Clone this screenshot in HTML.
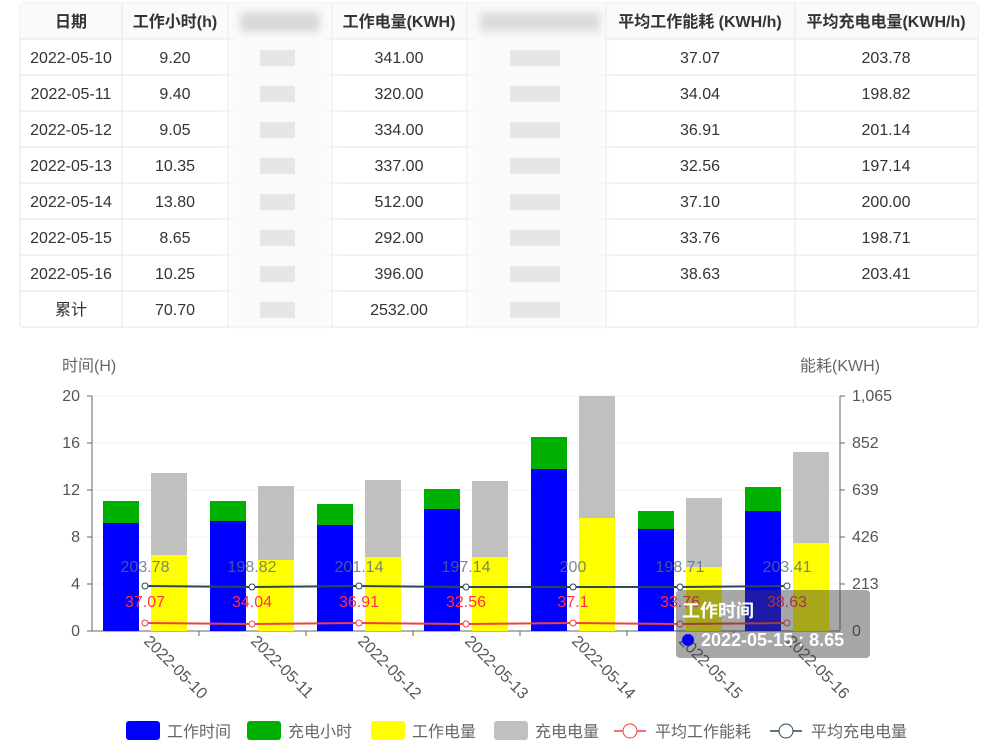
<!DOCTYPE html>
<html><head><meta charset="utf-8"><style>
body{margin:0;background:#fff;width:1000px;height:750px;overflow:hidden;font-family:"Liberation Sans","Noto Sans CJK SC",sans-serif}
</style></head><body>
<svg width="1000" height="750" xmlns="http://www.w3.org/2000/svg" font-family="Liberation Sans, Noto Sans CJK SC, sans-serif">
<defs><filter id="bl"><feGaussianBlur stdDeviation="4"/></filter></defs>
<rect x="20" y="3" width="958" height="324" fill="#fff" stroke="#e4e4e4" rx="3"/>
<rect x="20" y="3" width="958" height="36" fill="#fafafa"/>
<g stroke="#e6e6e6" stroke-width="1">
<line x1="20" y1="39" x2="978" y2="39"/><line x1="20" y1="75" x2="978" y2="75"/><line x1="20" y1="111" x2="978" y2="111"/><line x1="20" y1="147" x2="978" y2="147"/><line x1="20" y1="183" x2="978" y2="183"/><line x1="20" y1="219" x2="978" y2="219"/><line x1="20" y1="255" x2="978" y2="255"/><line x1="20" y1="291" x2="978" y2="291"/>
<line x1="122" y1="3" x2="122" y2="327"/><line x1="228" y1="3" x2="228" y2="327"/><line x1="332" y1="3" x2="332" y2="327"/><line x1="467" y1="3" x2="467" y2="327"/><line x1="606" y1="3" x2="606" y2="327"/><line x1="795" y1="3" x2="795" y2="327"/>
</g>
<g filter="url(#bl)">
<rect x="230" y="3" width="100" height="324" fill="#fafafa"/>
<rect x="240" y="12" width="80" height="20" fill="#d8d8d8"/>
<rect x="470" y="3" width="134" height="324" fill="#fafafa"/>
<rect x="480" y="12" width="120" height="20" fill="#dcdcdc"/>
</g>
<g fill="#e6e6e6"><rect x="260" y="50" width="35" height="16"/><rect x="260" y="86" width="35" height="16"/><rect x="260" y="122" width="35" height="16"/><rect x="260" y="158" width="35" height="16"/><rect x="260" y="194" width="35" height="16"/><rect x="260" y="230" width="35" height="16"/><rect x="260" y="266" width="35" height="16"/><rect x="260" y="302" width="35" height="16"/>
<rect x="510" y="50" width="50" height="16"/><rect x="510" y="86" width="50" height="16"/><rect x="510" y="122" width="50" height="16"/><rect x="510" y="158" width="50" height="16"/><rect x="510" y="194" width="50" height="16"/><rect x="510" y="230" width="50" height="16"/><rect x="510" y="266" width="50" height="16"/><rect x="510" y="302" width="50" height="16"/></g>
<g font-size="16" fill="#333" text-anchor="middle" font-weight="bold">
<text x="71" y="27">日期</text><text x="175" y="27">工作小时(h)</text><text x="399" y="27">工作电量(KWH)</text><text x="700" y="27">平均工作能耗 (KWH/h)</text><text x="886" y="27">平均充电电量(KWH/h)</text></g>
<g font-size="16" fill="#333" text-anchor="middle">
<text x="71" y="63">2022-05-10</text><text x="175" y="63">9.20</text><text x="399" y="63">341.00</text><text x="700" y="63">37.07</text><text x="886" y="63">203.78</text>
<text x="71" y="99">2022-05-11</text><text x="175" y="99">9.40</text><text x="399" y="99">320.00</text><text x="700" y="99">34.04</text><text x="886" y="99">198.82</text>
<text x="71" y="135">2022-05-12</text><text x="175" y="135">9.05</text><text x="399" y="135">334.00</text><text x="700" y="135">36.91</text><text x="886" y="135">201.14</text>
<text x="71" y="171">2022-05-13</text><text x="175" y="171">10.35</text><text x="399" y="171">337.00</text><text x="700" y="171">32.56</text><text x="886" y="171">197.14</text>
<text x="71" y="207">2022-05-14</text><text x="175" y="207">13.80</text><text x="399" y="207">512.00</text><text x="700" y="207">37.10</text><text x="886" y="207">200.00</text>
<text x="71" y="243">2022-05-15</text><text x="175" y="243">8.65</text><text x="399" y="243">292.00</text><text x="700" y="243">33.76</text><text x="886" y="243">198.71</text>
<text x="71" y="279">2022-05-16</text><text x="175" y="279">10.25</text><text x="399" y="279">396.00</text><text x="700" y="279">38.63</text><text x="886" y="279">203.41</text>
<text x="71" y="315">累计</text><text x="175" y="315">70.70</text><text x="399" y="315">2532.00</text></g>
<g stroke="#f2f2f2"><line x1="92" y1="396" x2="840" y2="396"/><line x1="92" y1="443" x2="840" y2="443"/><line x1="92" y1="490" x2="840" y2="490"/><line x1="92" y1="537" x2="840" y2="537"/><line x1="92" y1="584" x2="840" y2="584"/></g>
<g font-size="16" fill="#666"><text x="62" y="371">时间(H)</text><text x="800" y="371">能耗(KWH)</text></g>
<g font-size="16" fill="#555" text-anchor="end"><text x="80" y="401">20</text><text x="80" y="448">16</text><text x="80" y="495">12</text><text x="80" y="542">8</text><text x="80" y="589">4</text><text x="80" y="636">0</text></g>
<g font-size="16" fill="#555"><text x="852" y="401">1,065</text><text x="852" y="448">852</text><text x="852" y="495">639</text><text x="852" y="542">426</text><text x="852" y="589">213</text><text x="852" y="636">0</text></g>
<g stroke="#666"><line x1="92" y1="396" x2="92" y2="631"/><line x1="840" y1="396" x2="840" y2="631"/><line x1="92" y1="631" x2="840" y2="631"/>
<line x1="87" y1="396" x2="92" y2="396"/><line x1="87" y1="443" x2="92" y2="443"/><line x1="87" y1="490" x2="92" y2="490"/><line x1="87" y1="537" x2="92" y2="537"/><line x1="87" y1="584" x2="92" y2="584"/><line x1="87" y1="631" x2="92" y2="631"/>
<line x1="840" y1="396" x2="845" y2="396"/><line x1="840" y1="443" x2="845" y2="443"/><line x1="840" y1="490" x2="845" y2="490"/><line x1="840" y1="537" x2="845" y2="537"/><line x1="840" y1="584" x2="845" y2="584"/>
<line x1="199" y1="631" x2="199" y2="636"/><line x1="306" y1="631" x2="306" y2="636"/><line x1="413" y1="631" x2="413" y2="636"/><line x1="520" y1="631" x2="520" y2="636"/><line x1="627" y1="631" x2="627" y2="636"/><line x1="734" y1="631" x2="734" y2="636"/></g>
<g>
<rect x="103" y="523" width="36" height="108" fill="#0000ff"/><rect x="103" y="501" width="36" height="22" fill="#00b000"/><rect x="151" y="555" width="36" height="76" fill="#ffff00"/><rect x="151" y="473" width="36" height="82" fill="#c0c0c0"/>
<rect x="210" y="521" width="36" height="110" fill="#0000ff"/><rect x="210" y="501" width="36" height="20" fill="#00b000"/><rect x="258" y="560" width="36" height="71" fill="#ffff00"/><rect x="258" y="486" width="36" height="74" fill="#c0c0c0"/>
<rect x="317" y="525" width="36" height="106" fill="#0000ff"/><rect x="317" y="504" width="36" height="21" fill="#00b000"/><rect x="365" y="557" width="36" height="74" fill="#ffff00"/><rect x="365" y="480" width="36" height="77" fill="#c0c0c0"/>
<rect x="424" y="509" width="36" height="122" fill="#0000ff"/><rect x="424" y="489" width="36" height="20" fill="#00b000"/><rect x="472" y="557" width="36" height="74" fill="#ffff00"/><rect x="472" y="481" width="36" height="76" fill="#c0c0c0"/>
<rect x="531" y="469" width="36" height="162" fill="#0000ff"/><rect x="531" y="437" width="36" height="32" fill="#00b000"/><rect x="579" y="518" width="36" height="113" fill="#ffff00"/><rect x="579" y="396" width="36" height="122" fill="#c0c0c0"/>
<rect x="638" y="529" width="36" height="102" fill="#0000ff"/><rect x="638" y="511" width="36" height="18" fill="#00b000"/><rect x="686" y="567" width="36" height="64" fill="#ffff00"/><rect x="686" y="498" width="36" height="69" fill="#c0c0c0"/>
<rect x="745" y="511" width="36" height="120" fill="#0000ff"/><rect x="745" y="487" width="36" height="24" fill="#00b000"/><rect x="793" y="543" width="36" height="88" fill="#ffff00"/><rect x="793" y="452" width="36" height="91" fill="#c0c0c0"/>
</g>
<g font-size="16" fill="#5a6a80" text-anchor="middle" opacity="0.8"><text x="145" y="572">203.78</text><text x="252" y="572">198.82</text><text x="359" y="572">201.14</text><text x="466" y="572">197.14</text><text x="573" y="572">200</text><text x="680" y="572">198.71</text><text x="787" y="572">203.41</text></g>
<polyline points="145,586 252,587 359,586 466,587 573,587 680,587 787,586" fill="none" stroke="#2f4554" stroke-width="2"/>
<g fill="#fff" stroke="#2f4554"><circle cx="145" cy="586" r="3"/><circle cx="252" cy="587" r="3"/><circle cx="359" cy="586" r="3"/><circle cx="466" cy="587" r="3"/><circle cx="573" cy="587" r="3"/><circle cx="680" cy="587" r="3"/><circle cx="787" cy="586" r="3"/></g>
<g font-size="16" fill="#ff3050" text-anchor="middle"><text x="145" y="607">37.07</text><text x="252" y="607">34.04</text><text x="359" y="607">36.91</text><text x="466" y="607">32.56</text><text x="573" y="607">37.1</text><text x="680" y="607">33.76</text><text x="787" y="607">38.63</text></g>
<polyline points="145,623 252,624 359,623 466,624 573,623 680,624 787,623" fill="none" stroke="#f04040" stroke-width="2"/>
<g fill="#fff" stroke="#f04040"><circle cx="145" cy="623" r="3"/><circle cx="252" cy="624" r="3"/><circle cx="359" cy="623" r="3"/><circle cx="466" cy="624" r="3"/><circle cx="573" cy="623" r="3"/><circle cx="680" cy="624" r="3"/><circle cx="787" cy="623" r="3"/></g>
<g font-size="16" fill="#555">
<text transform="translate(143,642) rotate(45)">2022-05-10</text><text transform="translate(250,642) rotate(45)">2022-05-11</text><text transform="translate(357,642) rotate(45)">2022-05-12</text><text transform="translate(464,642) rotate(45)">2022-05-13</text><text transform="translate(571,642) rotate(45)">2022-05-14</text><text transform="translate(678,642) rotate(45)">2022-05-15</text><text transform="translate(785,642) rotate(45)">2022-05-16</text></g>
<rect x="676" y="590" width="194" height="68" rx="4" fill="rgba(60,60,60,0.45)"/>
<text x="682" y="617" font-size="18" font-weight="bold" fill="#fff">工作时间</text>
<circle cx="688" cy="640" r="6" fill="#0000ff"/>
<text x="701" y="646" font-size="18" font-weight="bold" fill="#fff">2022-05-15 : 8.65</text>
<g font-size="16" fill="#666">
<rect x="126" y="721" width="34" height="19" rx="3" fill="#0000ff"/><text x="167" y="737">工作时间</text>
<rect x="247" y="721" width="34" height="19" rx="3" fill="#00b000"/><text x="288" y="737">充电小时</text>
<rect x="371" y="721" width="34" height="19" rx="3" fill="#ffff00"/><text x="412" y="737">工作电量</text>
<rect x="494" y="721" width="34" height="19" rx="3" fill="#c0c0c0"/><text x="535" y="737">充电电量</text>
<line x1="614" y1="731" x2="646" y2="731" stroke="#f04040" stroke-width="1.5"/><circle cx="630" cy="731" r="7" fill="#fff" stroke="#f04040"/><text x="655" y="737">平均工作能耗</text>
<line x1="770" y1="731" x2="802" y2="731" stroke="#2f4554" stroke-width="1.5"/><circle cx="786" cy="731" r="7" fill="#fff" stroke="#2f4554"/><text x="811" y="737">平均充电电量</text>
</g>
</svg>
</body></html>
